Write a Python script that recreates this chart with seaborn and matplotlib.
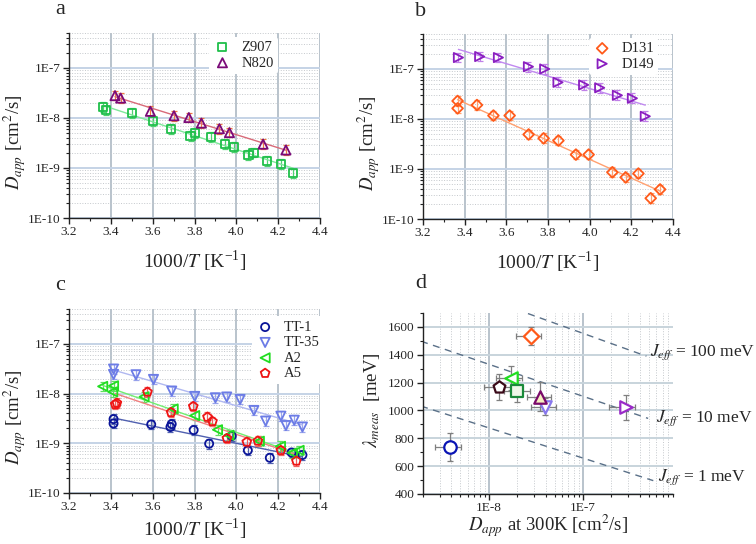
import numpy as np
import matplotlib
matplotlib.use("Agg")
import matplotlib.pyplot as plt
import seaborn as sns
from matplotlib.ticker import (FixedLocator, FuncFormatter, MultipleLocator,
                               NullFormatter, LogLocator)

# ---------------- data ----------------
# panel a
z907_x = [3.364, 3.377, 3.503, 3.603, 3.688, 3.781, 3.804, 3.881, 3.946, 3.989,
          4.058, 4.082, 4.146, 4.213, 4.273]
z907_y = [1.66e-8, 1.42e-8, 1.26e-8, 8.7e-9, 6.0e-9, 4.37e-9, 5.0e-9, 4.1e-9, 3.0e-9,
          2.67e-9, 1.82e-9, 2.03e-9, 1.36e-9, 1.2e-9, 7.8e-10]
n820_x = [3.420, 3.447, 3.589, 3.702, 3.773, 3.833, 3.919, 3.967, 4.128, 4.237]
n820_y = [2.8e-8, 2.5e-8, 1.36e-8, 1.11e-8, 1.02e-8, 7.9e-9, 6.1e-9, 5.1e-9, 3.0e-9, 2.29e-9]
# panel b
d131_x = [3.366, 3.366, 3.459, 3.538, 3.616, 3.707, 3.779, 3.850, 3.934, 3.995,
          4.109, 4.173, 4.234, 4.293, 4.338]
d131_y = [2.29e-8, 1.63e-8, 1.9e-8, 1.17e-8, 1.17e-8, 4.9e-9, 4.1e-9, 3.7e-9, 1.94e-9,
          1.94e-9, 8.6e-10, 6.8e-10, 8.1e-10, 2.6e-10, 3.9e-10]
d149_x = [3.370, 3.472, 3.562, 3.706, 3.784, 3.848, 3.971, 4.048, 4.133, 4.205, 4.267]
d149_y = [1.69e-7, 1.77e-7, 1.69e-7, 1.11e-7, 1.0e-7, 5.4e-8, 4.8e-8, 4.2e-8, 2.97e-8,
          2.59e-8, 1.13e-8]
# panel c
tt1_x = [3.413, 3.413, 3.593, 3.685, 3.691, 3.796, 3.870, 3.978, 4.055, 4.160, 4.264, 4.316]
tt1_y = [3.06e-9, 2.5e-9, 2.39e-9, 2.12e-9, 2.43e-9, 1.84e-9, 9.8e-10, 1.4e-9, 7.2e-10,
         5.1e-10, 6.5e-10, 5.8e-10]
tt35_x = [3.413, 3.413, 3.520, 3.604, 3.691, 3.801, 3.900, 3.954, 4.018, 4.084, 4.140,
          4.213, 4.237, 4.277, 4.316]
tt35_y = [3.1e-8, 2.42e-8, 2.38e-8, 1.92e-8, 1.12e-8, 8.75e-9, 8.2e-9, 8.5e-9, 7.6e-9,
          4.57e-9, 2.79e-9, 3.5e-9, 2.27e-9, 2.9e-9, 2.12e-9]
a2_x = [3.361, 3.413, 3.409, 3.559, 3.698, 3.801, 3.910, 3.965, 4.110, 4.211, 4.268, 4.300]
a2_y = [1.39e-8, 1.43e-8, 1.08e-8, 8.6e-9, 4.9e-9, 3.6e-9, 1.87e-9, 1.45e-9, 1.1e-9,
        8.7e-10, 6.4e-10, 7.2e-10]
a5_x = [3.421, 3.429, 3.575, 3.688, 3.794, 3.862, 3.886, 3.955, 4.050, 4.103, 4.213, 4.287]
a5_y = [6.04e-9, 6.4e-9, 1.07e-8, 4.17e-9, 5.5e-9, 3.36e-9, 2.75e-9, 1.25e-9, 1.06e-9,
        1.11e-9, 7.2e-10, 4.4e-10]
rel_err = 0.25

# panel d
d_names = ['TT-1', 'TT-35', 'A2', 'A5', 'Z907', 'N820', 'D131', 'D149']
d_x = [3.86e-9, 3.92e-8, 1.71e-8, 1.29e-8, 1.97e-8, 3.47e-8, 2.77e-8, 2.82e-7]
d_xlo = [2.65e-9, 2.82e-8, 1.2e-8, 8.98e-9, 1.45e-8, 2.55e-8, 1.94e-8, 1.89e-7]
d_xhi = [5.07e-9, 5.1e-8, 2.25e-8, 1.79e-8, 2.7e-8, 4.6e-8, 3.6e-8, 3.58e-7]
d_y = [737, 1026, 1232, 1167, 1141, 1098, 1535, 1022]
d_yerr = [98, 60, 85, 93, 78, 104, 66, 88]
j_labels = ['1 meV', '10 meV', '100 meV']
j_x = [[1.91e-9, 5.56e-7], [1.91e-9, 4.9e-7], [2.6e-8, 4.7e-7]]
j_y = [[1031, 496], [1497, 943], [1696, 1390]]
j_text_x = [6.2e-7, 5.9e-7, 5.1e-7]
j_text_y = [520, 943, 1421]

# ---------------- style ----------------
sns.set_theme(style="ticks")
plt.rcParams['font.family'] = ['Liberation Serif', 'DejaVu Serif']
plt.rcParams['mathtext.fontset'] = 'stix'

W, H = 756, 544
fig = plt.figure(figsize=(W / 100, H / 100), dpi=100)


def box(l, t, r, b):
    return [l / W, 1 - b / H, (r - l) / W, (b - t) / H]


axa = fig.add_axes(box(69, 33, 320, 218))
axb = fig.add_axes(box(423, 34, 673, 219))
axc = fig.add_axes(box(69, 309, 320, 493))
axd = fig.add_axes(box(423, 313, 673, 494))

logfmt = FuncFormatter(lambda v, p: "1E%d" % int(round(np.log10(v))))


def common(ax):
    for s in ['top', 'right']:
        ax.spines[s].set_visible(False)
    for s in ['left', 'bottom']:
        ax.spines[s].set_color('#222222')
        ax.spines[s].set_linewidth(1.0)
    ax.tick_params(which='major', direction='out', length=4, width=1,
                   labelsize=9.5, color='#222222', pad=2)
    ax.tick_params(which='minor', direction='out', length=2.5, width=0.8,
                   color='#222222')
    ax.set_axisbelow(True)


def arrh_axes(ax, xlab_y):
    common(ax)
    ax.set_yscale('log')
    ax.set_xlim(3.2, 4.4)
    ax.set_ylim(1e-10, 5e-7)
    ax.xaxis.set_major_locator(MultipleLocator(0.2))
    ax.xaxis.set_minor_locator(MultipleLocator(0.1))
    ax.xaxis.set_major_formatter(FuncFormatter(lambda v, p: "%.1f" % v))
    ax.yaxis.set_major_locator(FixedLocator([1e-10, 1e-9, 1e-8, 1e-7]))
    ax.yaxis.set_minor_locator(LogLocator(base=10, subs=np.arange(2, 10), numticks=20))
    ax.yaxis.set_major_formatter(logfmt)
    ax.yaxis.set_minor_formatter(NullFormatter())
    ax.grid(which='major', axis='x', color='#b9c3cc', lw=1.4)
    ax.grid(which='major', axis='y', color='#c5d3e6', lw=1.4)
    ax.grid(which='minor', axis='y', color='#c4c8cc', lw=0.7, ls=':')
    ax.set_xlabel(r'1000/$T$ [K$^{\mathregular{-1}}$]', fontsize=14)
    ax.set_ylabel(r'$D_{app}$ [cm$^2$/s]', fontsize=13.5)
    ax.xaxis.set_label_coords(0.5, xlab_y)
    ax.yaxis.set_label_coords(-0.165, 0.41)


def series(ax, x, y, marker, color, ecolor, lcolor, label, s=34):
    x = np.asarray(x)
    y = np.asarray(y)
    ax.errorbar(x, y, yerr=[y - y / (1 + rel_err), y * rel_err], fmt='none',
                ecolor=ecolor, elinewidth=0.9, capsize=2, capthick=0.9, zorder=2)
    coef = np.polyfit(x, np.log10(y), 1)
    xf = np.linspace(x.min(), x.max(), 50)
    sns.lineplot(x=xf, y=10 ** np.polyval(coef, xf), color=lcolor, lw=1.0,
                 ax=ax, zorder=2)
    sns.scatterplot(x=x, y=y, marker=marker, s=s, facecolor='none',
                    edgecolor=color, linewidth=1.3, label=label, ax=ax, zorder=3)


def legend(ax, anchor):
    lg = ax.legend(frameon=True, fontsize=10.5, handletextpad=0.7,
                   borderpad=0.3, labelspacing=0.15, handlelength=1.2,
                   loc='upper left', bbox_to_anchor=anchor)
    lg.get_frame().set_facecolor('white')
    lg.get_frame().set_edgecolor('none')
    lg.get_frame().set_alpha(1)


# panel a
arrh_axes(axa, -0.165)
series(axa, z907_x, z907_y, 's', '#1fbf4a', '#4fd070', '#7ee89a', 'Z907')
series(axa, n820_x, n820_y, '^', '#7a0a78', '#f07a40', '#d86a78', 'N820', s=44)
legend(axa, (0.53, 1.02))

# panel b
arrh_axes(axb, -0.165)
series(axb, d131_x, d131_y, 'D', '#ff5a1a', '#ffa070', '#ffa070', 'D131', s=30)
series(axb, d149_x, d149_y, '>', '#8a1ec0', '#c080e8', '#c088f0', 'D149', s=44)
legend(axb, (0.635, 1.02))

# panel c
arrh_axes(axc, -0.13)
series(axc, tt1_x, tt1_y, 'o', '#0a1498', '#5060b0', '#5060b0', 'TT-1')
series(axc, tt35_x, tt35_y, 'v', '#6c7ce6', '#9aa4ec', '#b0b8f0', 'TT-35', s=44)
series(axc, a2_x, a2_y, '<', '#22dd22', '#60e060', '#70ee70', 'A2', s=44)
series(axc, a5_x, a5_y, 'p', '#ee1414', '#f06060', '#f08080', 'A5', s=44)
legend(axc, (0.70, 1.0))

# panel d
common(axd)
axd.set_xscale('log')
axd.set_xlim(2e-9, 9e-7)
axd.set_ylim(400, 1700)
axd.yaxis.set_major_locator(MultipleLocator(200))
axd.yaxis.set_minor_locator(MultipleLocator(100))
axd.xaxis.set_major_locator(FixedLocator([1e-8, 1e-7]))
axd.xaxis.set_minor_locator(LogLocator(base=10, subs=np.arange(2, 10), numticks=20))
axd.xaxis.set_major_formatter(logfmt)
axd.xaxis.set_minor_formatter(NullFormatter())
axd.grid(which='major', axis='y', color='#c8d4dc', lw=1.4)
axd.grid(which='major', axis='x', color='#b9c3cc', lw=1.4)
axd.grid(which='minor', axis='x', color='#c4c8cc', lw=0.7, ls=':')

for jx, jy in zip(j_x, j_y):
    sns.lineplot(x=jx, y=jy, color='#5a7088', lw=1.0, ax=axd, zorder=2,
                 dashes=False, linestyle=(0, (5, 4)))
for tx, ty, lab in zip(j_text_x, j_text_y, j_labels):
    axd.text(tx, ty, r'$J_{eff}$ = ' + lab, fontsize=12.5, va='center', ha='left',
             clip_on=False)

d_style = {
    'TT-1': ('o', '#0a14b4', 'white'),
    'TT-35': ('v', '#8878ee', 'white'),
    'A2': ('<', '#22dd22', 'white'),
    'A5': ('p', '#3a0a18', 'white'),
    'Z907': ('s', '#1a8a3a', '#eef8e8'),
    'N820': ('^', '#7a0a6a', '#f6eec0'),
    'D131': ('D', '#ff5a1a', 'white'),
    'D149': ('>', '#9a2ac8', 'white'),
}
for i, name in enumerate(d_names):
    mk, ec, fc = d_style[name]
    axd.errorbar([d_x[i]], [d_y[i]], yerr=[d_yerr[i]],
                 xerr=[[d_x[i] - d_xlo[i]], [d_xhi[i] - d_x[i]]],
                 fmt='none', ecolor='#7f7f7f', elinewidth=0.9, capsize=2,
                 capthick=0.9, zorder=3)
    sns.scatterplot(x=[d_x[i]], y=[d_y[i]], marker=mk, s=80 if mk != 'D' else 60,
                    facecolor=fc, edgecolor=ec, linewidth=1.6, ax=axd, zorder=4,
                    legend=False)
axd.set_xlabel(r'$D_{app}$ at 300K [cm$^2$/s]', fontsize=13.5)
axd.set_ylabel(r'$\lambda_{meas}$  [meV]', fontsize=13.5)
axd.xaxis.set_label_coords(0.5, -0.105)
axd.yaxis.set_label_coords(-0.165, 0.52)

# panel letters
for lab, (px, py) in [('a', (55, 10)), ('b', (415, 12)),
                      ('c', (55, 286)), ('d', (415, 284))]:
    fig.text(px / W, 1 - py / H, lab, fontsize=16, ha='left', va='center')

fig.savefig('out.png', dpi=100)
